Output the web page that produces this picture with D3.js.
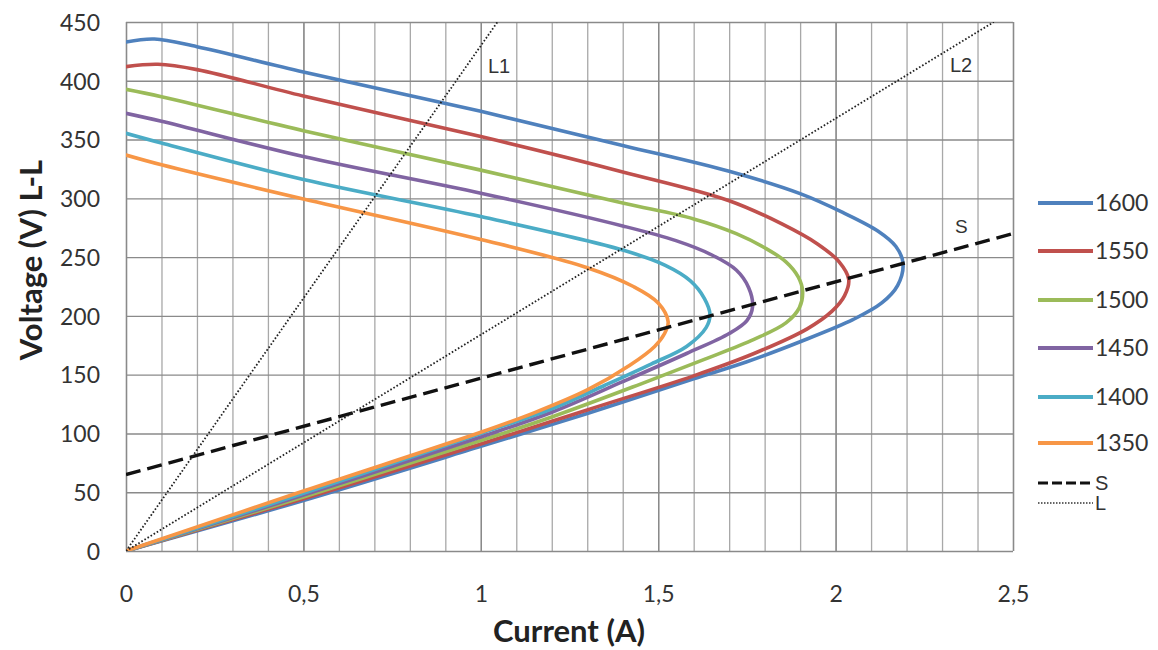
<!DOCTYPE html>
<html><head><meta charset="utf-8">
<script src="https://cdn.jsdelivr.net/npm/d3@7/dist/d3.min.js"></script>
<style>body{margin:0;background:#fff}</style>
</head><body>
<svg id="chart" width="1158" height="650"></svg>
<script>
// ---------- data ----------
const xTicks = [0, 0.5, 1, 1.5, 2, 2.5];
const xTickLabels = ["0", "0,5", "1", "1,5", "2", "2,5"];
const yTicks = [0, 50, 100, 150, 200, 250, 300, 350, 400, 450];
const seriesNames = ["1600", "1550", "1500", "1450", "1400", "1350"];
const seriesColors = ["#4F81BD", "#C0504D", "#9BBB59", "#8064A2", "#4BACC6", "#F79646"];

// [current (A), voltage (V)] from no-load, round the nose, back to origin
const s1600 = [[0,433],[0.08,435.5],[0.2,429],[0.5,407.5],[1.0,374],[1.4,345],[1.7,323],[1.9,304],[2.02,288],[2.12,272],[2.17,259],[2.19,245],[2.175,226],[2.13,211],[2.05,197],[1.9,178],[1.75,161],[1.6,146.5],[1.3,117],[1.0,89],[0.5,43],[0,0]];
const s1550 = [[0,412],[0.09,414],[0.2,409.5],[0.5,387],[1.0,352.5],[1.4,322.5],[1.7,298],[1.85,278],[1.95,261],[2.01,246],[2.037,231],[2.025,217],[1.99,204],[1.92,189],[1.77,168],[1.6,149],[1.3,120],[1.0,91],[0.5,44.5],[0,0]];
const s1500 = [[0,392.7],[0.1,386.5],[0.5,357.5],[1.0,324],[1.4,296],[1.6,282.5],[1.72,270],[1.8,258],[1.86,246],[1.895,233],[1.907,221],[1.898,207],[1.86,194],[1.77,180],[1.63,163],[1.45,142],[1.2,114],[1.0,94],[0.5,46],[0,0]];
const s1450 = [[0,372.3],[0.1,365.5],[0.5,335.5],[1.0,304.3],[1.4,276.5],[1.55,264],[1.65,252],[1.72,239],[1.755,224],[1.766,208],[1.75,196],[1.7,185],[1.58,168],[1.4,144],[1.2,118],[1.0,97],[0.5,47.5],[0,0]];
const s1400 = [[0,355.3],[0.1,347],[0.5,316],[1.0,284.5],[1.4,256],[1.52,243],[1.59,230],[1.63,215],[1.646,201],[1.635,190],[1.58,174],[1.48,159],[1.35,141],[1.2,121],[1.0,100],[0.5,49],[0,0]];
const s1350 = [[0,336.8],[0.1,328.5],[0.5,299.5],[1.0,265],[1.3,241],[1.43,225],[1.5,211],[1.528,195],[1.518,185],[1.49,174],[1.42,158],[1.3,137],[1.15,117.5],[1.0,101],[0.5,51],[0,0]];
const seriesData = [s1600, s1550, s1500, s1450, s1400, s1350];

const lineS  = [[0,65],[2.5,270]];
const lineL1 = [[0,0],[1.047,450]];
const lineL2 = [[0,0],[2.446,450]];
const legendLabels = ["1600","1550","1500","1450","1400","1350","S","L"];

// ---------- chart ----------
const svg = d3.select("#chart");
const x = d3.scaleLinear().domain([0, 2.5]).range([126, 1013]);
const y = d3.scaleLinear().domain([0, 450]).range([551, 22]);
const W = 1013 - 126, H = 551 - 22;

svg.append("rect").attr("width",1158).attr("height",650).attr("fill","#fff");

// minor vertical gridlines (every 0.1)
svg.append("g").attr("transform",`translate(0,551)`)
  .call(d3.axisBottom(x).tickValues(d3.range(0, 26).map(d => d/10)).tickSize(-H).tickFormat(""))
  .call(g => g.select(".domain").remove())
  .call(g => g.selectAll("line").attr("stroke","#a8a8a8").attr("stroke-width",1.3));
// major vertical gridlines
svg.append("g").attr("transform",`translate(0,551)`)
  .call(d3.axisBottom(x).tickValues(xTicks).tickSize(-H).tickFormat(""))
  .call(g => g.select(".domain").remove())
  .call(g => g.selectAll("line").attr("stroke","#8a8a8a").attr("stroke-width",1.4));
// horizontal gridlines
svg.append("g").attr("transform",`translate(126,0)`)
  .call(d3.axisLeft(y).tickValues(yTicks).tickSize(-W).tickFormat(""))
  .call(g => g.select(".domain").remove())
  .call(g => g.selectAll("line").attr("stroke","#8a8a8a").attr("stroke-width",1.4));

// tick labels
svg.append("g").attr("transform",`translate(0,551)`)
  .call(d3.axisBottom(x).tickValues(xTicks).tickSize(0).tickPadding(0).tickFormat((d,i) => xTickLabels[i]))
  .call(g => g.select(".domain").remove())
  .call(g => g.selectAll("text").attr("y", 51).attr("dy", 0)
      .attr("font-family","Lato, 'Liberation Sans', sans-serif").attr("font-size",23).attr("fill","#333"));
svg.append("g").attr("transform",`translate(126,0)`)
  .call(d3.axisLeft(y).tickValues(yTicks).tickSize(0).tickPadding(26).tickFormat(d => String(d)))
  .call(g => g.select(".domain").remove())
  .call(g => g.selectAll("text").attr("dy","0.36em")
      .attr("font-family","Lato, 'Liberation Sans', sans-serif").attr("font-size",23).attr("fill","#333"));

// axis titles
svg.append("text").attr("x",569).attr("y",642).attr("text-anchor","middle")
  .attr("font-family","Lato, 'Liberation Sans', sans-serif").attr("font-weight","bold").attr("font-size",31).attr("fill","#222")
  .text("Current (A)");
svg.append("text").attr("transform","translate(42,260) rotate(-90)").attr("text-anchor","middle")
  .attr("font-family","Lato, 'Liberation Sans', sans-serif").attr("font-weight","bold").attr("font-size",31).attr("fill","#222")
  .text("Voltage (V) L-L");

// clip
svg.append("clipPath").attr("id","plotclip").append("rect").attr("x",126).attr("y",22).attr("width",W).attr("height",H);
const plot = svg.append("g").attr("clip-path","url(#plotclip)");

const curveLine = d3.line().x(d => x(d[0])).y(d => y(d[1])).curve(d3.curveCatmullRom.alpha(0.5));
const straight = d3.line().x(d => x(d[0])).y(d => y(d[1]));

seriesData.forEach((s, i) => {
  plot.append("path").datum(s).attr("d", curveLine).attr("fill","none")
    .attr("stroke", seriesColors[i]).attr("stroke-width",3.6).attr("stroke-linejoin","round").attr("stroke-linecap","round");
});

plot.append("path").datum(lineS).attr("d", straight).attr("fill","none")
  .attr("stroke","#111").attr("stroke-width",3.4).attr("stroke-dasharray","15,7");
[lineL1, lineL2].forEach(l => {
  plot.append("path").datum(l).attr("d", straight).attr("fill","none")
    .attr("stroke","#222").attr("stroke-width",1.8).attr("stroke-dasharray","1.6,2");
});

// line labels
const lblFont = "'Liberation Sans', Arial, sans-serif";
svg.append("text").attr("x",488).attr("y",73).attr("font-family",lblFont).attr("font-size",20).attr("fill","#333").text("L1");
svg.append("text").attr("x",950).attr("y",72).attr("font-family",lblFont).attr("font-size",20).attr("fill","#333").text("L2");
svg.append("text").attr("x",955).attr("y",233).attr("font-family",lblFont).attr("font-size",19).attr("fill","#333").text("S");

// legend
const legY = [203, 251, 300, 348, 397, 443, 483, 503];
const leg = svg.append("g");
legendLabels.forEach((lab, i) => {
  const g = leg.append("g").attr("transform",`translate(0,${legY[i]})`);
  const ln = g.append("line").attr("x1",1038).attr("x2",1093).attr("y1",0).attr("y2",0);
  if (i < 6) ln.attr("stroke", seriesColors[i]).attr("stroke-width",4);
  else if (lab === "S") ln.attr("stroke","#111").attr("stroke-width",3).attr("stroke-dasharray","10,4");
  else ln.attr("stroke","#333").attr("stroke-width",1.4).attr("stroke-dasharray","1.5,1.5");
  g.append("text").attr("x",1095).attr("y",0).attr("dy","0.36em")
    .attr("font-family", i < 6 ? "Lato, 'Liberation Sans', sans-serif" : lblFont)
    .attr("font-size", i < 6 ? 23 : 20).attr("fill","#333").text(lab);
});
</script>
</body></html>
